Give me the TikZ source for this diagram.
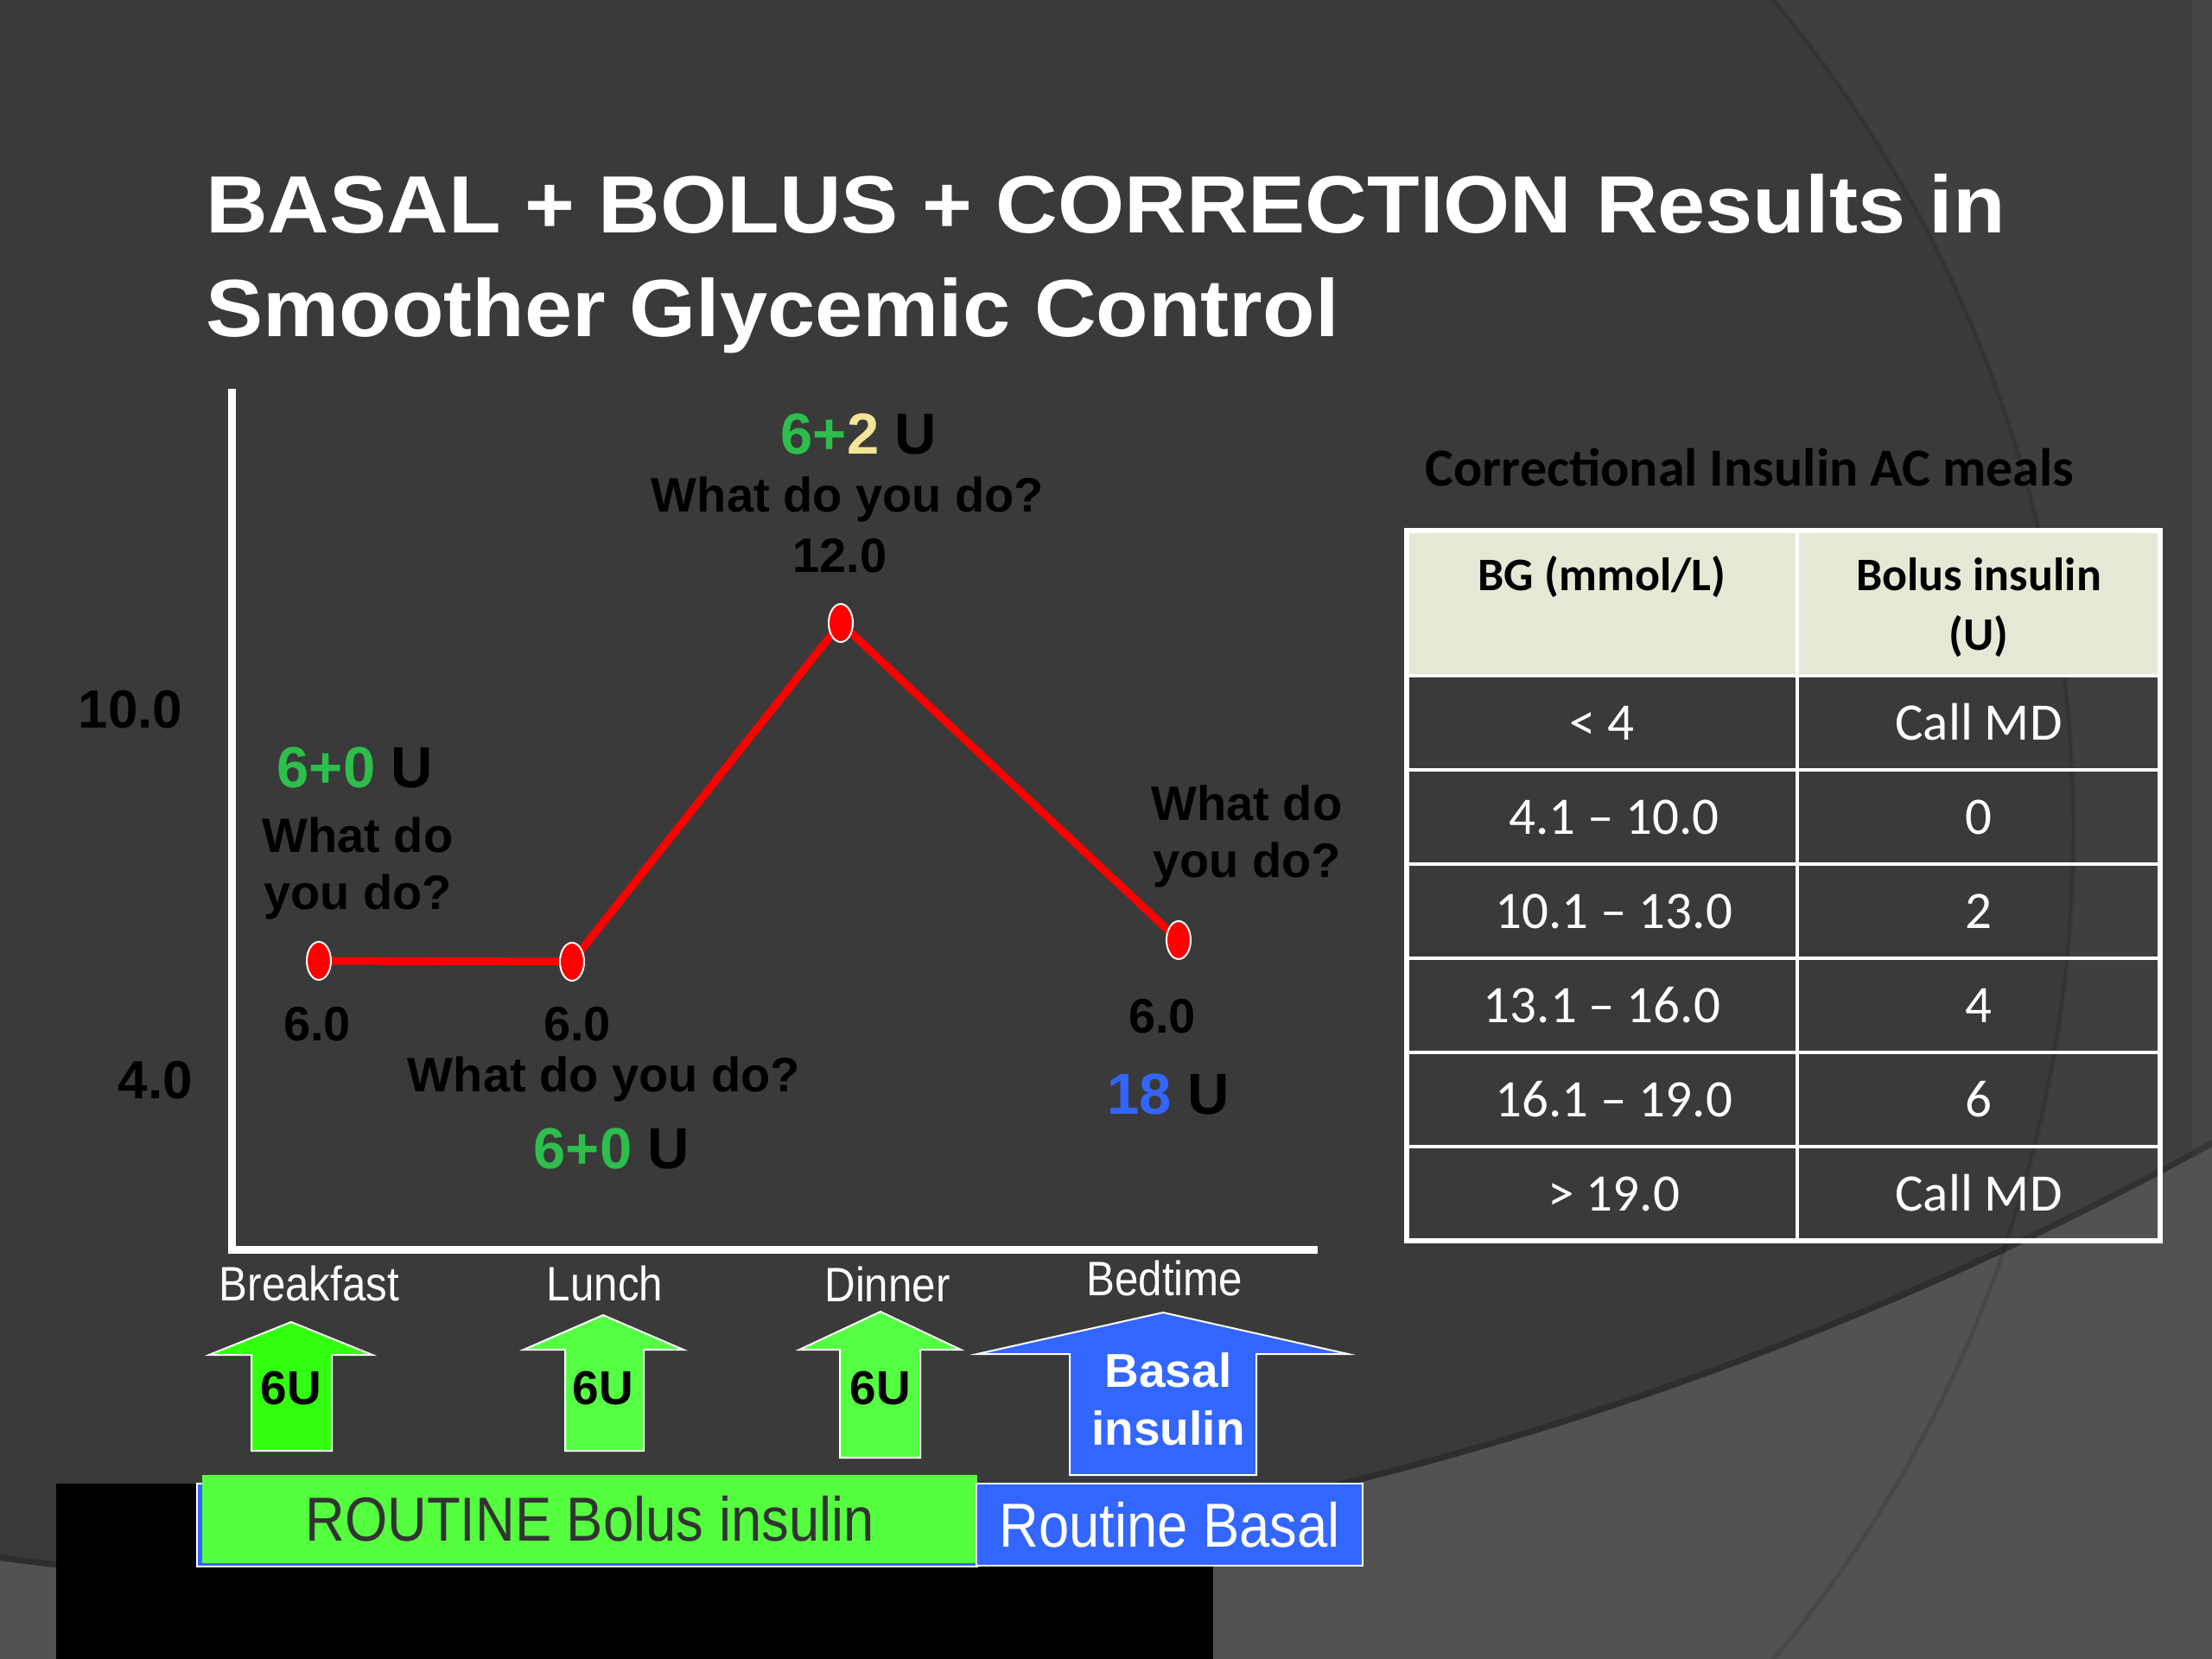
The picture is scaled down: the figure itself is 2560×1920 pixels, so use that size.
\documentclass[tikz,border=0pt]{standalone}
\usepackage{fontspec}
\setmainfont{Liberation Sans}
\newfontfamily\titlefont[FakeStretch=1.055]{Liberation Sans}
\newfontfamily\narrowfont[FakeStretch=0.88]{Liberation Sans}
\newfontfamily\tablefont{Carlito}
\usetikzlibrary{shapes.geometric,positioning}

\definecolor{slidedark}{HTML}{3A3A3A}
\definecolor{slideouter}{HTML}{3F3F3F}
\definecolor{slidelight}{HTML}{525252}
\definecolor{slideedge}{HTML}{454545}
\definecolor{headbeige}{HTML}{E5E8D4}
\definecolor{dosegreen}{HTML}{2DBE4B}
\definecolor{doseyellow}{HTML}{F3E596}
\definecolor{basalblue}{HTML}{3366FF}
\definecolor{limefirst}{HTML}{33FF11}
\definecolor{limeother}{HTML}{55FF44}
\definecolor{bargreen}{HTML}{55FF40}
\definecolor{bartext}{HTML}{333333}

\tikzstyle{title-text} = [font=\titlefont\fontsize{94}{120}\selectfont\bfseries, text=white, inner sep=0pt, align=left]
\tikzstyle{chart-text} = [font=\fontsize{56}{66}\selectfont\bfseries, inner sep=0pt]
\tikzstyle{dose-text} = [font=\fontsize{67}{70}\selectfont\bfseries, inner sep=0pt]
\tikzstyle{tick-text} = [font=\fontsize{62}{66}\selectfont\bfseries, inner sep=0pt]
\tikzstyle{meal-text} = [font=\narrowfont\fontsize{56}{60}\selectfont, text=white, inner sep=0pt]
\tikzstyle{arrow-text} = [font=\fontsize{55}{67}\selectfont\bfseries, inner sep=0pt]
\tikzstyle{bar} = [rectangle, font=\narrowfont\fontsize{72}{76}\selectfont, inner sep=0pt]
\tikzstyle{reading} = [ellipse, fill=red, draw=white, line width=2pt, minimum width=28pt, minimum height=44pt, inner sep=0pt]
\tikzstyle{glucose-line} = [red, line width=9pt]
\tikzstyle{axis-line} = [white, line width=9pt]
\tikzstyle{bolus-arrow} = [draw=white, line width=2pt]
\tikzstyle{cell} = [rectangle, draw=white, line width=4pt, outer sep=0pt, inner sep=0pt, minimum height=109pt, text height=40pt, text depth=0pt, text=white, font=\tablefont\fontsize{61}{66}\selectfont]
\tikzstyle{range-cell} = [cell, minimum width=452pt]
\tikzstyle{dose-cell} = [cell, minimum width=420pt]
\tikzstyle{head-text} = [font=\tablefont\fontsize{54}{69}\selectfont\bfseries, inner sep=0pt, anchor=base]

\begin{document}
\begin{tikzpicture}[x=1pt, y=-1pt]

	\useasboundingbox (0,0) rectangle (2560,1920);

	\fill[slidelight] (0,0) rectangle (2560,1920);
	\begin{scope}
		\clip (550,-2332) circle [radius=4174pt];
		\fill[slideouter] (0,0) rectangle (2560,1920);
		\fill[slidedark] (900,960) circle [radius=1500pt];
		\fill[slideedge] (2537,0) rectangle (2560,1340);
		\draw[black, opacity=0.2, line width=14pt] (550,-2332) circle [radius=4174pt];
	\end{scope}
	\draw[black, opacity=0.12, line width=5pt] (900,960) circle [radius=1500pt];

	\node[title-text, anchor=north west] (title) at (238,201) {BASAL + BOLUS + CORRECTION Results in\\Smoother Glycemic Control};

	\coordinate (axis-top) at (268,450);
	\coordinate (origin) at (268,1446);
	\coordinate (axis-end) at (1525,1446);
	\draw[axis-line] (axis-top) -- (origin) -- (axis-end);

	\node[tick-text, anchor=base] (tick-high) at (151,842) {10.0};
	\node[tick-text, anchor=base] (tick-low) at (180,1271) {4.0};

	\coordinate (pt-breakfast) at (369,1112);
	\coordinate (pt-lunch) at (662,1113);
	\coordinate (pt-dinner) at (973,721);
	\coordinate (pt-bedtime) at (1364,1088);
	\draw[glucose-line] (pt-breakfast) -- (pt-lunch) -- (pt-dinner) -- (pt-bedtime);
	\node[reading] (dot-breakfast) at (pt-breakfast) {};
	\node[reading] (dot-lunch) at (pt-lunch) {};
	\node[reading] (dot-dinner) at (pt-dinner) {};
	\node[reading] (dot-bedtime) at (pt-bedtime) {};

	\node[dose-text, anchor=base] (dose-breakfast) at (411,911) {\textcolor{dosegreen}{6+0} U};
	\node[chart-text, align=center] (ask-breakfast) at (414,1005) {What do\\you do?};
	\node[chart-text, anchor=base] (bg-breakfast) at (367,1204) {6.0};

	\node[chart-text, anchor=base] (bg-lunch) at (668,1204) {6.0};
	\node[chart-text, anchor=base] (ask-lunch) at (699,1263) {What do you do?};
	\node[dose-text, anchor=base] (dose-lunch) at (708,1352) {\textcolor{dosegreen}{6+0} U};

	\node[dose-text, anchor=base] (dose-dinner) at (994,525) {\textcolor{dosegreen}{6+}\textcolor{doseyellow}{2} U};
	\node[chart-text, anchor=base] (ask-dinner) at (981,592) {What do you do?};
	\node[chart-text, anchor=base] (bg-dinner) at (972,662) {12.0};

	\node[chart-text, align=center] (ask-bedtime) at (1443,968) {What do\\you do?};
	\node[chart-text, anchor=base] (bg-bedtime) at (1345,1195) {6.0};
	\node[dose-text, anchor=base] (dose-bedtime) at (1352,1289) {\textcolor{basalblue}{18} U};

	\node[meal-text, anchor=base] (breakfast) at (358,1505) {Breakfast};
	\node[meal-text, anchor=base] (lunch) at (700,1505) {Lunch};
	\node[meal-text, anchor=base] (dinner) at (1027,1506) {Dinner};
	\node[meal-text, anchor=base] (bedtime) at (1348,1499) {Bedtime};

	\filldraw[bolus-arrow, fill=limefirst] (337,1530) -- (431,1568) -- (384,1568) -- (384,1679) -- (291,1679) -- (291,1568) -- (242,1568) -- cycle;
	\filldraw[bolus-arrow, fill=limeother] (698,1522) -- (791,1562) -- (745,1562) -- (745,1679) -- (654,1679) -- (654,1562) -- (606,1562) -- cycle;
	\filldraw[bolus-arrow, fill=limeother] (1019,1518) -- (1112,1562) -- (1065,1562) -- (1065,1687) -- (972,1687) -- (972,1562) -- (925,1562) -- cycle;
	\filldraw[bolus-arrow, fill=basalblue] (1346,1519) -- (1560,1567) -- (1454,1567) -- (1454,1707) -- (1238,1707) -- (1238,1567) -- (1131,1567) -- cycle;

	\node[arrow-text, anchor=base] (dose-b) at (337,1625) {6U};
	\node[arrow-text, anchor=base] (dose-l) at (698,1625) {6U};
	\node[arrow-text, anchor=base] (dose-d) at (1019,1625) {6U};
	\node[arrow-text, text=white, align=center] (basal-dose) at (1352,1619) {Basal\\insulin};

	\fill[black] (65,1717) rectangle (1404,1920);
	\filldraw[fill=basalblue, draw=white, line width=1.5pt] (228,1717) rectangle (1131,1813);
	\node[bar, fill=bargreen, text=bartext, minimum width=897pt, minimum height=102pt] (bolus-bar) at (682.5,1758) {ROUTINE Bolus insulin};
	\node[bar, fill=basalblue, draw=white, line width=2pt, text=white, minimum width=447pt, minimum height=95pt] (basal-bar) at (1353.5,1764.5) {Routine Basal};

	\node[head-text, font=\tablefont\fontsize{62}{66}\selectfont\bfseries] (table-title) at (2025,562) {Correctional Insulin AC meals};

	\node[range-cell, fill=headbeige, minimum height=168pt] (head-bg) at (1854,698) {};
	\node[dose-cell, fill=headbeige, minimum height=168pt, right=0pt of head-bg] (head-dose) {};
	\node[range-cell, below=0pt of head-bg] (range1) {< 4};
	\node[range-cell, below=0pt of range1] (range2) {\ \ 4.1 – 10.0};
	\node[range-cell, below=0pt of range2] (range3) {\ \ 10.1 – 13.0};
	\node[range-cell, below=0pt of range3] (range4) {13.1 – 16.0};
	\node[range-cell, below=0pt of range4] (range5) {\ \ 16.1 – 19.0};
	\node[range-cell, below=0pt of range5] (range6) {\ \ > 19.0};
	\node[dose-cell, right=0pt of range1] (dose1) {Call MD};
	\node[dose-cell, right=0pt of range2] (dose2) {0};
	\node[dose-cell, right=0pt of range3] (dose3) {2};
	\node[dose-cell, right=0pt of range4] (dose4) {4};
	\node[dose-cell, right=0pt of range5] (dose5) {6};
	\node[dose-cell, right=0pt of range6] (dose6) {Call MD};
	\draw[white, line width=6pt] (head-bg.north west) rectangle (dose6.south east);

	\node[head-text] (bg-label) at (1854,683) {BG (mmol/L)};
	\node[head-text] (bolus-label) at (2290,683) {Bolus insulin};
	\node[head-text] (unit-label) at (2290,752) {(U)};

\end{tikzpicture}
\end{document}
